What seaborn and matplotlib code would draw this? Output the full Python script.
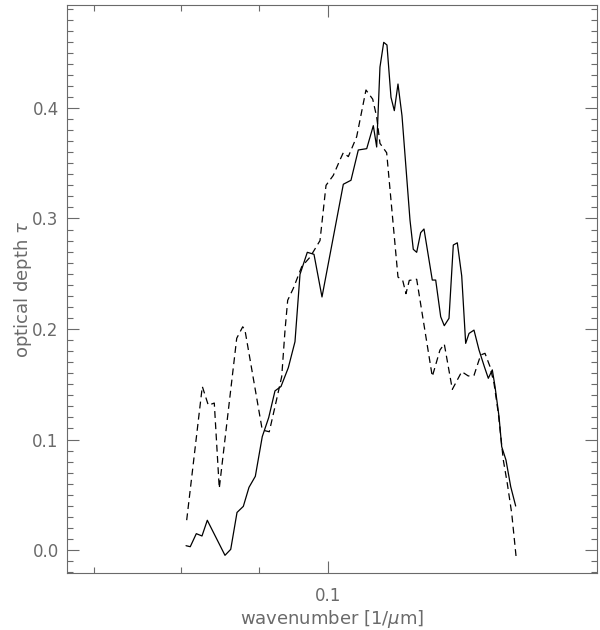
import numpy as np
import pandas as pd
import matplotlib
matplotlib.use("Agg")
import matplotlib.pyplot as plt
import seaborn as sns
from matplotlib.ticker import FixedLocator, NullFormatter, FixedFormatter

# values
solid_x = [0.08057, 0.08109, 0.08184, 0.08255, 0.08322, 0.08549, 0.08624, 0.08707,
           0.08791, 0.08867, 0.08953, 0.09048, 0.09137, 0.09225, 0.09310, 0.09414,
           0.09510, 0.09583, 0.09690, 0.09789, 0.09909, 0.10236, 0.10356, 0.10472,
           0.10607, 0.10714, 0.10769, 0.10823, 0.10885, 0.10939, 0.11006, 0.11062,
           0.11124, 0.11192, 0.11329, 0.11386, 0.11445, 0.11515, 0.11573, 0.11720,
           0.11781, 0.11871, 0.11936, 0.12022, 0.12101, 0.12175, 0.12257, 0.12331,
           0.12394, 0.12488, 0.12584, 0.12686, 0.12763, 0.12841, 0.12894, 0.12973,
           0.13026, 0.13111, 0.13206, 0.13306]
solid_tau = [0.0039, 0.0030, 0.0148, 0.0127, 0.0269, -0.0048, 0.0006, 0.0340,
             0.0395, 0.0567, 0.0667, 0.1026, 0.1198, 0.1440, 0.1480, 0.1650,
             0.1885, 0.2495, 0.2694, 0.2676, 0.2290, 0.3310, 0.3346, 0.3620,
             0.3632, 0.3840, 0.3647, 0.4370, 0.4594, 0.4570, 0.4097, 0.3976,
             0.4217, 0.3930, 0.2986, 0.2721, 0.2694, 0.2872, 0.2905, 0.2443,
             0.2443, 0.2111, 0.2030, 0.2097, 0.2760, 0.2780, 0.2480, 0.1870,
             0.1960, 0.1990, 0.1810, 0.1660, 0.1554, 0.1630, 0.1480, 0.1207,
             0.0935, 0.0814, 0.0573, 0.0398]

dash_x = [0.08065, 0.08259, 0.08335, 0.08411, 0.08475, 0.08703, 0.08783, 0.08813,
          0.09048, 0.09145, 0.09225, 0.09320, 0.09367, 0.09405, 0.09486, 0.09608,
          0.09730, 0.09879, 0.09970, 0.10081, 0.10184, 0.10236, 0.10314, 0.10446,
          0.10595, 0.10704, 0.10769, 0.10823, 0.10934, 0.11124, 0.11204, 0.11260,
          0.11317, 0.11445, 0.11720, 0.11858, 0.11936, 0.12083, 0.12257, 0.12380,
          0.12488, 0.12616, 0.12699, 0.12796, 0.12874, 0.12959, 0.13058, 0.13137,
          0.13226, 0.13313]
dash_tau = [0.0270, 0.1480, 0.1310, 0.1330, 0.0558, 0.1916, 0.2020, 0.1990,
            0.1086, 0.1070, 0.1297, 0.1570, 0.1990, 0.2260, 0.2368, 0.2564,
            0.2650, 0.2800, 0.3300, 0.3390, 0.3530, 0.3596, 0.3560, 0.3740,
            0.4163, 0.4080, 0.3920, 0.3680, 0.3595, 0.2470, 0.2440, 0.2320,
            0.2440, 0.2450, 0.1570, 0.1810, 0.1864, 0.1454, 0.1614, 0.1575,
            0.1580, 0.1765, 0.1780, 0.1660, 0.1510, 0.1237, 0.0814, 0.0603,
            0.0332, -0.0054]

y_ticks = [0.0, 0.1, 0.2, 0.3, 0.4]
y_labels = ["0.0", "0.1", "0.2", "0.3", "0.4"]
x_ticks = [0.1]
x_labels = ["0.1"]
x_minor = [0.07, 0.08, 0.09]

sns.set_style("ticks")
plt.rcParams['font.family'] = ['DejaVu Sans']
grey = "#6a6a6a"

fig = plt.figure(figsize=(6, 6.3), dpi=100)
ax = fig.add_axes([67/600, 1-573/630, 530/600, 568/630])

df_s = pd.DataFrame({"x": solid_x, "tau": solid_tau})
df_d = pd.DataFrame({"x": dash_x, "tau": dash_tau})
sns.lineplot(data=df_s, x="x", y="tau", ax=ax, color="black", lw=0.9,
             sort=False, estimator=None)
sns.lineplot(data=df_d, x="x", y="tau", ax=ax, color="black", lw=0.9,
             sort=False, estimator=None, dashes=False, linestyle=(0, (5.5, 3.5)))

ax.set_xscale("log")
ax.set_xlim(0.06722, 0.15059)
ax.set_ylim(-0.0208, 0.4932)

ax.xaxis.set_major_locator(FixedLocator(x_ticks))
ax.xaxis.set_major_formatter(FixedFormatter(x_labels))
ax.xaxis.set_minor_locator(FixedLocator(x_minor))
ax.xaxis.set_minor_formatter(NullFormatter())
ax.yaxis.set_major_locator(FixedLocator(y_ticks))
ax.yaxis.set_major_formatter(FixedFormatter(y_labels))
ax.yaxis.set_minor_locator(FixedLocator(np.arange(-0.02, 0.495, 0.01)))

ax.tick_params(which="both", direction="in", top=True, right=True,
               colors=grey, labelcolor=grey, labelsize=12, width=0.8)
ax.tick_params(which="major", length=8.5)
ax.tick_params(which="minor", length=4)
ax.tick_params(axis="x", pad=10)
ax.tick_params(axis="y", pad=6)
for s in ax.spines.values():
    s.set_color(grey)
    s.set_linewidth(0.8)

ax.set_xlabel("wavenumber [1/$\\mu$m]", fontsize=13, color=grey, labelpad=2)
ax.set_ylabel("optical depth $\\tau$", fontsize=13, color=grey, labelpad=-1)

fig.savefig("out.png", dpi=100)
